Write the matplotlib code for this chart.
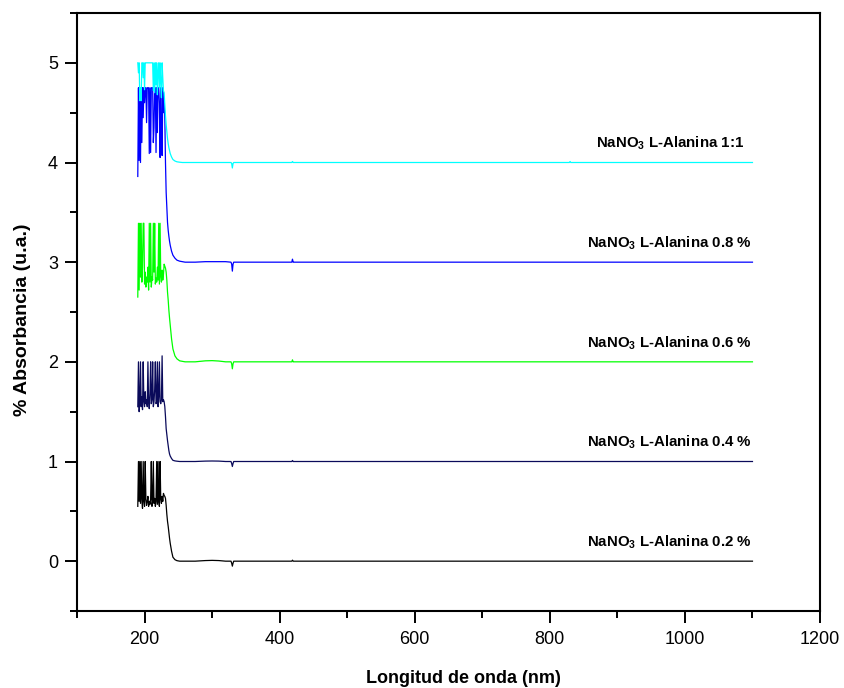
import numpy as np
import matplotlib
matplotlib.use("Agg")
import matplotlib.pyplot as plt

plt.rcParams['font.family'] = ['Liberation Sans', 'DejaVu Sans']
plt.rcParams['mathtext.fontset'] = 'custom'
plt.rcParams['mathtext.rm'] = 'Liberation Sans'
plt.rcParams['mathtext.bf'] = 'Liberation Sans:bold'

# ---------------- data ----------------
wavelength = [190, 191, 192, 193, 194, 195, 196, 197, 198, 199,
              200, 201, 202, 203, 204, 205, 206, 207, 208, 209,
              210, 211, 212, 213, 214, 215, 216, 217, 218, 219,
              220, 221, 222, 223, 224, 225, 226, 227, 228, 229,
              230, 231, 232, 233, 234, 235, 236, 237, 238, 240,
              242, 245, 248, 252, 256, 260, 275, 290, 300, 310,
              320, 328, 329, 330, 331, 332, 340, 418, 419, 420,
              421, 500, 829, 830, 831, 1000, 1100]

abs_02 = [0.55, 1.0, 0.6, 1.0, 0.58, 1.0, 0.62, 0.53, 1.0, 0.6,
          0.55, 1.0, 0.62, 0.56, 0.6, 0.65, 0.55, 0.6, 0.57, 0.62,
          1.0, 0.55, 0.6, 1.0, 0.58, 0.63, 0.55, 0.6, 1.0, 0.57,
          1.0, 0.6, 0.55, 1.0, 0.62, 0.58, 0.65, 0.6, 0.68, 0.66,
          0.65, 0.63, 0.56, 0.47, 0.4, 0.35, 0.29, 0.23, 0.18, 0.1,
          0.04, 0.015, 0.005, 0.0, 0.0, 0.0, 0.0, 0.006, 0.008, 0.006,
          0.0, 0.0, -0.02, -0.05, -0.02, 0.0, 0.0, 0.0, 0.01, 0.0,
          0.0, 0.0, 0.0, 0.0, 0.0, 0.0, 0.0]

abs_04 = [1.55, 2.0, 1.5, 1.6, 2.0, 1.55, 1.65, 1.52, 2.0, 1.6,
          1.55, 1.7, 1.58, 1.62, 1.55, 2.0, 1.6, 1.53, 1.68, 2.0,
          1.58, 1.62, 2.0, 1.55, 1.6, 1.72, 2.0, 1.58, 1.6, 2.0,
          1.55, 1.65, 2.0, 1.6, 1.58, 1.62, 2.06, 1.6, 1.62, 1.6,
          1.55, 1.45, 1.33, 1.27, 1.21, 1.16, 1.11, 1.075, 1.055, 1.03,
          1.012, 1.006, 1.003, 1.0, 1.0, 1.0, 1.0, 1.004, 1.005, 1.004,
          1.0, 1.0, 0.98, 0.95, 0.98, 1.0, 1.0, 1.0, 1.01, 1.0,
          1.0, 1.0, 1.0, 1.0, 1.0, 1.0, 1.0]

abs_06 = [2.65, 3.39, 2.72, 3.39, 2.85, 3.39, 2.8, 2.95, 3.39, 3.39,
          2.78, 2.9, 2.75, 2.85, 2.8, 2.95, 2.72, 3.39, 2.8, 3.39,
          2.75, 2.85, 2.82, 3.39, 2.9, 3.39, 2.78, 2.84, 2.8, 2.95,
          2.82, 3.39, 2.78, 3.39, 2.85, 2.8, 2.92, 2.82, 2.88, 2.98,
          2.96, 2.94, 2.9, 2.82, 2.7, 2.62, 2.52, 2.44, 2.37, 2.23,
          2.13, 2.06, 2.03, 2.01, 2.005, 2.0, 2.0, 2.01, 2.012, 2.008,
          2.0, 2.0, 1.98, 1.93, 1.98, 2.0, 2.0, 2.0, 2.02, 2.0,
          2.0, 2.0, 2.0, 2.0, 2.0, 2.0, 2.0]

abs_08 = [3.86, 4.75, 4.02, 4.75, 4.0, 4.75, 4.2, 4.75, 4.45, 4.75,
          4.6, 4.75, 4.75, 4.4, 4.75, 4.75, 4.75, 4.09, 4.75, 4.1,
          4.75, 4.75, 4.75, 4.2, 4.35, 4.75, 4.75, 4.1, 4.75, 4.3,
          4.75, 4.75, 4.6, 4.05, 4.75, 4.3, 4.07, 4.75, 4.5, 4.6,
          4.45, 4.0, 3.7, 3.55, 3.4, 3.32, 3.26, 3.21, 3.17, 3.11,
          3.07, 3.04, 3.02, 3.01, 3.005, 3.0, 3.0, 3.005, 3.005, 3.005,
          3.005, 3.0, 2.98, 2.91, 2.98, 3.0, 3.0, 3.0, 3.03, 3.0,
          3.0, 3.0, 3.0, 3.0, 3.0, 3.0, 3.0]

abs_11 = [5.0, 4.9, 5.0, 4.62, 4.75, 4.62, 5.0, 5.0, 4.85, 5.0,
          4.73, 5.0, 5.0, 5.0, 5.0, 5.0, 5.0, 5.0, 5.0, 5.0,
          5.0, 5.0, 5.0, 4.72, 5.0, 4.7, 5.0, 4.78, 5.0, 4.68,
          4.9, 5.0, 4.75, 5.0, 4.8, 4.65, 5.0, 4.85, 4.72, 4.7,
          4.58, 4.47, 4.38, 4.31, 4.24, 4.19, 4.15, 4.12, 4.09, 4.055,
          4.03, 4.015, 4.007, 4.003, 4.0, 4.0, 4.0, 4.0, 4.0, 4.0,
          4.0, 4.0, 3.99, 3.945, 3.99, 4.0, 4.0, 4.0, 4.01, 4.0,
          4.0, 4.0, 4.0, 4.01, 4.0, 4.0, 4.0]

series = [abs_02, abs_04, abs_06, abs_08, abs_11]
labels = ['0.2 %', '0.4 %', '0.6 %', '0.8 %', '1:1']
colors = ['#000000', '#0a0a5a', '#00ff00', '#0000ff', '#00ffff']
offsets = [0, 1, 2, 3, 4]

x_major = [200, 400, 600, 800, 1000, 1200]
x_minor = [100, 300, 500, 700, 900, 1100]
y_major = [0, 1, 2, 3, 4, 5]
y_minor = [-0.5, 0.5, 1.5, 2.5, 3.5, 4.5, 5.5]

# ---------------- plot ----------------
fig = plt.figure(figsize=(8.44, 6.88), dpi=100)
ax = fig.add_axes([77 / 844, 1 - 611 / 688, (820 - 77) / 844, (611 - 13) / 688])

for ys, c in zip(series, colors):
    ax.plot(wavelength, ys, color=c, lw=0.9)

for lab, off in zip(labels, offsets):
    xr = 1088 if lab == '1:1' else 1099
    ax.text(xr, off + 0.15,
            r'NaNO$_{\mathbf{3}}$ L-Alanina ' + lab,
            ha='right', va='baseline', fontsize=10.8, fontweight='bold')

ax.set_xlim(100, 1200)
ax.set_ylim(-0.5, 5.5)
ax.set_xticks(x_major)
ax.set_xticks(x_minor, minor=True)
ax.set_yticks(y_major)
ax.set_yticks(y_minor, minor=True)
ax.tick_params(which='major', direction='out', length=8.6, width=1.4,
               labelsize=13, top=False, right=False)
ax.tick_params(which='minor', direction='out', length=5, width=1.4,
               top=False, right=False)
ax.tick_params(axis='x', which='major', pad=5.5)
ax.tick_params(axis='y', which='major', pad=5)
for s in ax.spines.values():
    s.set_linewidth(1.5)

ax.set_xlabel('Longitud de onda (nm)', fontsize=13, fontweight='bold')
ax.set_ylabel('% Absorbancia (u.a.)', fontsize=14, fontweight='bold')
ax.xaxis.set_label_coords(0.52, -0.098)
ax.yaxis.set_label_coords(-0.062, 0.487)

fig.savefig('out.png', dpi=100)
